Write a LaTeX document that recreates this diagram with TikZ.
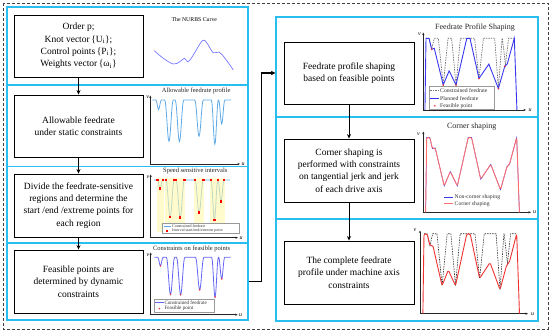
\documentclass[tikz,border=0pt]{standalone}
\usepackage{fontspec}
\setmainfont{Liberation Serif}
\usetikzlibrary{arrows.meta}
\definecolor{panelc}{RGB}{40,190,240}
\definecolor{feedc}{RGB}{95,170,230}
\definecolor{c4blue}{RGB}{100,100,245}
\definecolor{nurbsc}{RGB}{120,120,255}
\definecolor{planc}{RGB}{55,55,240}
\definecolor{redc}{RGB}{240,50,50}
\definecolor{pinkc}{RGB}{255,110,110}
\definecolor{bandc}{RGB}{255,248,170}

\newcommand\leftprof[1]{\draw[#1] (0,0) -- (0.045,0) .. controls (0.059,0) and (0.0678,0.15) .. (0.08,0.15) .. controls (0.0922,0.15) and (0.101,0) .. (0.115,0) -- (0.157,0) .. controls (0.179,0) and (0.1928,0.645) .. (0.212,0.645) .. controls (0.2313,0.645) and (0.245,0) .. (0.267,0) -- (0.29,0) .. controls (0.312,0) and (0.3258,0.65) .. (0.345,0.65) .. controls (0.3643,0.65) and (0.378,0) .. (0.40,0) -- (0.539,0) .. controls (0.561,0) and (0.5748,0.565) .. (0.594,0.565) .. controls (0.6133,0.565) and (0.627,0) .. (0.649,0) -- (0.75,0) .. controls (0.768,0) and (0.7793,0.69) .. (0.795,0.69) .. controls (0.8108,0.69) and (0.822,0) .. (0.84,0) -- (0.842,0) .. controls (0.858,0) and (0.868,0.375) .. (0.882,0.375) .. controls (0.896,0.375) and (0.906,0) .. (0.922,0) -- (1,0);}

\newcommand\rightprof[1]{\draw[#1] (0,0) -- (0.034,0) -- (0.064,0.15) -- (0.094,0) -- (0.14,0) -- (0.195,0.65) -- (0.25,0) -- (0.29,0) -- (0.34,0.65) -- (0.39,0) -- (0.55,0) -- (0.6,0.56) -- (0.65,0) -- (0.778,0) -- (0.82,0.70) -- (0.862,0) -- (0.865,0) -- (0.9,0.37) -- (0.935,0) -- (1,0);}

\newcommand\planned[1]{\draw[#1] (-0.012,1) -- (0,0) -- (0.034,0) -- (0.064,0.153) -- (0.094,0.14) -- (0.195,0.65) -- (0.262,0.455) -- (0.34,0.65) -- (0.462,0) -- (0.498,0) -- (0.60,0.56) -- (0.712,0.36) -- (0.82,0.70) -- (0.892,0.39) -- (0.92,0.36) -- (1,0) -- (1.03,1);}

\begin{document}
\begin{tikzpicture}[x=1pt,y=-1pt,
  font=\fontsize{9.5}{12.3}\selectfont,
  box/.style={draw, line width=0.9pt, align=center, minimum width=129pt, minimum height=62pt, inner sep=2pt, fill=white},
  lsec/.style={draw=panelc, line width=1.3pt, minimum width=241pt, inner sep=0pt},
  rsec/.style={draw=panelc, line width=1.3pt, minimum width=262pt, inner sep=0pt},
  flow/.style={line width=1pt, -{Stealth[length=4.5pt,width=4pt]}},
  link/.style={line width=1.6pt, -{Stealth[length=4.5pt,width=4.5pt]}},
  axisarr/.style={line width=0.5pt, black!85, -{Stealth[length=2.6pt,width=2.2pt]}},
  ttl/.style={font=\fontsize{6.5}{7}\selectfont, inner sep=0pt, text=black!85},
  bigttl/.style={font=\fontsize{8}{9}\selectfont, inner sep=0pt, text=black!85},
  axl/.style={font=\fontsize{6}{6}\selectfont\itshape, inner sep=0pt},
  leg/.style={font=\fontsize{4}{4.5}\selectfont, inner sep=0pt, anchor=west, text=black!80},
  legb/.style={font=\fontsize{5.7}{6}\selectfont, inner sep=0pt, anchor=west, text=black!80},
  dot/.style={circle, fill=redc, inner sep=0pt, minimum size=1.8pt},
  sq/.style={rectangle, fill=red, inner sep=0pt, minimum size=2.4pt}]
\useasboundingbox (0,0) rectangle (550,332);

% outer dashed frame
\draw[black!75, line width=0.8pt, dash pattern=on 3pt off 2pt] (3,3) rectangle (548,329);

% panel sections
\node[lsec, minimum height=78pt] (s1) at (127.5,46) {};
\node[lsec, minimum height=81.5pt] (s2) at (127.5,125.75) {};
\node[lsec, minimum height=76.5pt] (s3) at (127.5,204.75) {};
\node[lsec, minimum height=77pt] (s4) at (127.5,281.5) {};
\node[rsec, minimum height=100pt] (t1) at (407,67) {};
\node[rsec, minimum height=102pt] (t2) at (407,168) {};
\node[rsec, minimum height=102pt] (t3) at (407,270) {};

% boxes
\node[box] (b1) at (78.5,46) {Order p;\\Knot vector\,\{U\textsubscript{i}\};\\Control points\,\{P\textsubscript{i}\};\\Weights vector\,\{ω\textsubscript{i}\}};
\node[box] (b2) at (78.5,126) {Allowable feedrate\\under static constraints};
\node[box, minimum height=63pt] (b3) at (78.5,205.5) {Divide the feedrate-sensitive\\regions and determine the\\start /end /extreme points for\\each region};
\node[box, minimum height=63pt] (b4) at (78.5,281.5) {Feasible points are\\determined by dynamic\\constraints};
\node[box, minimum width=130pt] (b5) at (349,73) {Feedrate profile shaping\\based on feasible points};
\node[box, minimum width=130pt, minimum height=63pt] (b6) at (349,170.5) {Corner shaping is\\performed with constraints\\on tangential jerk and jerk\\of each drive axis};
\node[box, minimum width=130pt, minimum height=63pt] (b7) at (349,272.5) {The complete feedrate\\profile under machine axis\\constraints};

\draw[flow] (b1) -- (b2);
\draw[flow] (b2) -- (b3);
\draw[flow] (b3) -- (b4);
\draw[flow] (b5) -- (b6);
\draw[flow] (b6) -- (b7);
\draw[link] (s4.east) -- ++(13,0) |- (t1.west |- b5.west);

% ---- chart 1: NURBS curve
\node[font=\fontsize{5.8}{6}\selectfont, inner sep=0pt] (t1ttl) at (194.3,19.3) {The NURBS Curve};
\draw[nurbsc, line width=0.7pt] plot[smooth, tension=0.6] coordinates {(154.3,50.7) (163.3,58.3) (173.3,64) (180,61.7) (184.3,58.3) (188.3,61.7) (193.3,55) (202.3,40.7) (206.7,42.7) (213.3,52.7) (219,52) (225,58.3) (233.3,70)};

% ---- chart 2: allowable feedrate profile
\node[ttl] (c2ttl) at (196.2,90.7) {Allowable feedrate profile};
\draw[axisarr] (150.3,164) -- (150.3,95.5);
\draw[axisarr] (150.3,164) -- (240,164);
\node[axl] (c2v) at (147.6,97.5) {v};
\node[axl] (c2u) at (243,164) {u};
\begin{scope}[shift={(152.3,100)}, xscale=78.7, yscale=64]
\leftprof{feedc, line width=0.8pt}
\end{scope}

% ---- chart 3: speed sensitive intervals
\node[ttl] (c3ttl) at (195.3,170.7) {Speed sensitive intervals};
\draw[axisarr] (150.7,237.7) -- (150.7,174.5);
\draw[axisarr] (150.7,237.7) -- (238,237.7);
\node[axl] (c3v) at (148,177) {v};
\node[axl] (c3u) at (241,237.7) {u};
\begin{scope}[shift={(154,180)}, xscale=76, yscale=57.7]
\leftprof{feedc, line width=0.8pt}
\fill[bandc, opacity=0.6] (0.035,-0.035) rectangle (0.125,0.9);
\fill[bandc, opacity=0.6] (0.147,-0.035) rectangle (0.277,0.9);
\fill[bandc, opacity=0.6] (0.28,-0.035) rectangle (0.41,0.9);
\fill[bandc, opacity=0.6] (0.529,-0.035) rectangle (0.659,0.9);
\fill[bandc, opacity=0.6] (0.74,-0.035) rectangle (0.932,0.9);
\foreach \p in {0.045,0.115,0.157,0.267,0.29,0.40,0.539,0.649,0.75,0.84,0.922}
  \node[sq] at (\p,0) {};
\foreach \p/\q in {0.08/0.15,0.212/0.645,0.345/0.65,0.594/0.565,0.795/0.69,0.882/0.375}
  \node[sq] at (\p,\q) {};
\end{scope}
\draw[black!40, line width=0.3pt, fill=white] (162.3,223.3) rectangle (239,233.3);
\draw[feedc, line width=0.6pt] (163.5,226.2) -- (170.5,226.2);
\node[leg] (c3l1) at (172,226.2) {Constrained feedrate};
\node[sq] at (167,230.8) {};
\node[leg] (c3l2) at (172,230.8) {Interval start/end/extreme point};

% ---- chart 4: constraints on feasible points
\node[ttl] (c4ttl) at (191.7,248.7) {Constraints on feasible points};
\draw[axisarr] (150.7,314.7) -- (150.7,252.5);
\draw[axisarr] (150.7,314.7) -- (237.7,314.7);
\node[axl] (c4v) at (148,255) {v};
\node[axl] (c4u) at (240.5,314.7) {u};
\begin{scope}[shift={(154.3,257.3)}, xscale=76.4, yscale=57.4]
\leftprof{c4blue, line width=0.8pt}
\foreach \p/\q in {0.08/0.15,0.212/0.645,0.345/0.65,0.594/0.565,0.795/0.69,0.882/0.375}
  \node[dot] at (\p,\q) {};
\end{scope}
\draw[black!40, line width=0.3pt, fill=white] (154.3,299.3) rectangle (214,312);
\draw[c4blue, line width=0.7pt] (155.3,302.8) -- (163.5,302.8);
\node[leg, font=\fontsize{5.1}{5.5}\selectfont] (c4l1) at (164.3,302.8) {Constrained feedrate};
\node[dot] at (159.4,308.6) {};
\node[leg, font=\fontsize{5.1}{5.5}\selectfont] (c4l2) at (164.3,308.6) {Feasible point};

% ---- chart 5: feedrate profile shaping
\node[bigttl] (c5ttl) at (475,27.3) {Feedrate Profile Shaping};
\draw[axisarr] (423.3,110) -- (423.3,32.5);
\draw[axisarr] (423.3,110) -- (526,110);
\node[axl] (c5v) at (419.5,34.5) {v};
\node[axl] (c5u) at (530,110) {u};
\begin{scope}[shift={(426,38.3)}, xscale=88.3, yscale=71.7]
\rightprof{black!55, line width=0.7pt, dash pattern=on 1.5pt off 1pt}
\planned{planc, line width=0.9pt}
\foreach \p/\q in {0.064/0.153,0.195/0.65,0.34/0.65,0.60/0.56,0.82/0.70,0.892/0.39}
  \node[dot] at (\p,\q) {};
\end{scope}
\draw[black!40, line width=0.3pt, fill=white] (429,86.3) rectangle (494.5,109.5);
\draw[black!55, line width=0.8pt, dash pattern=on 1.5pt off 1pt] (430.3,90.8) -- (439.3,90.8);
\node[legb] (c5l1) at (440,90.8) {Constrained feedrate};
\draw[planc, line width=0.9pt] (430.3,98.3) -- (439.3,98.3);
\node[legb] (c5l2) at (440,98.3) {Planned feedrate};
\node[dot] at (434.8,105.8) {};
\node[legb] (c5l3) at (440,105.8) {Feasible point};

% ---- chart 6: corner shaping
\node[bigttl] (c6ttl) at (471.7,126.3) {Corner shaping};
\draw[axisarr] (423.3,212.3) -- (423.3,131.5);
\draw[axisarr] (423.3,212.3) -- (531,212.3);
\node[axl] (c6v) at (418.5,134) {v};
\node[axl] (c6u) at (534.5,212.3) {u};
\begin{scope}[shift={(426.7,137.3)}, xscale=90, yscale=75]
\planned{planc, line width=0.5pt}
\planned{pinkc, line width=0.9pt, rounded corners=1.5pt}
\end{scope}
\draw[planc, line width=0.6pt] (444.3,197) -- (453.3,197);
\node[legb] (c6l1) at (454.5,197) {Non-corner shaping};
\draw[pinkc, line width=0.9pt] (444.3,203.7) -- (453.3,203.7);
\node[legb] (c6l2) at (454.5,203.7) {Corner shaping};

% ---- chart 7: complete profile
\draw[axisarr] (420,313.7) -- (420,230.5);
\draw[axisarr] (420,313.7) -- (528,313.7);
\node[axl] (c7v) at (415,230) {v};
\node[axl] (c7u) at (532.5,313.7) {u};
\begin{scope}[shift={(424,233.7)}, xscale=92.7, yscale=80]
\rightprof{black!80, line width=0.6pt, dash pattern=on 1.5pt off 1pt}
\planned{redc, line width=0.9pt, rounded corners=1.5pt}
\end{scope}
\end{tikzpicture}
\end{document}
